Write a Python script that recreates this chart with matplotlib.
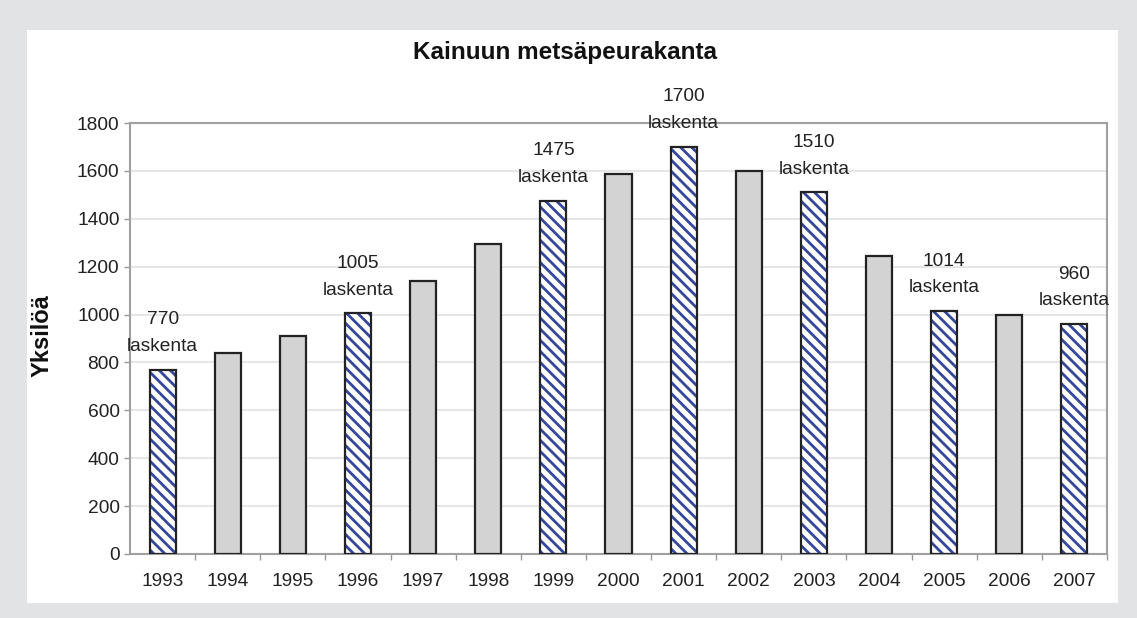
import matplotlib.pyplot as plt
from matplotlib.patches import Rectangle

plt.rcParams['font.family'] = ['Liberation Sans', 'DejaVu Sans']
plt.rcParams['hatch.linewidth'] = 2.0
plt.rcParams['hatch.color'] = '#34479b'

# Data
years = ['1993', '1994', '1995', '1996', '1997', '1998', '1999', '2000',
         '2001', '2002', '2003', '2004', '2005', '2006', '2007']
values = [770, 840, 910, 1005, 1140, 1295, 1475, 1585,
          1700, 1600, 1510, 1245, 1014, 1000, 960]
counted = [True, False, False, True, False, False, True, False,
           True, False, True, False, True, False, True]

fig = plt.figure(figsize=(11.37, 6.18), dpi=100)
fig.patch.set_facecolor('#e2e3e5')
# white panel
fig.patches.append(Rectangle((27 / 1137, 1 - 603 / 618), (1118 - 27) / 1137, (603 - 30) / 618,
                             transform=fig.transFigure, facecolor='white',
                             edgecolor='none', zorder=0))

ax = fig.add_axes([130 / 1137, 1 - 554 / 618, (1107 - 130) / 1137, (554 - 123) / 618])
ax.set_zorder(2)
ax.set_facecolor('white')

x = list(range(len(years)))
for i, (v, c) in enumerate(zip(values, counted)):
    if c:
        ax.bar(i, v, width=0.4, color='white', hatch='\\\\\\', edgecolor='#34479b',
               linewidth=0, zorder=2)
        ax.bar(i, v, width=0.4, fill=False, edgecolor='#222222', linewidth=1.6, zorder=3)
        ax.text(i, v + 62, f"{v}\nlaskenta", ha='center', va='bottom', fontsize=13.8,
                color='#222222', linespacing=1.75, zorder=4)
    else:
        ax.bar(i, v, width=0.4, color='#d3d3d3', edgecolor='#222222', linewidth=1.6, zorder=3)

ax.set_xlim(-0.5, len(years) - 0.5)
ax.set_ylim(0, 1800)
ax.set_yticks(range(0, 1801, 200))
ax.tick_params(axis='y', labelsize=13.8, colors='#999999', labelcolor='#222222',
               length=4, direction='out', width=1)
ax.set_xticks(x)
ax.set_xticklabels(years)
ax.tick_params(axis='x', which='major', length=0, labelsize=13.8, labelcolor='#222222', pad=14)
ax.set_xticks([i + 0.5 for i in range(len(years))], minor=True)
ax.tick_params(axis='x', which='minor', length=4, colors='#999999', direction='out', width=1)

ax.grid(axis='y', color='#e6e6e6', linewidth=1.5, zorder=0)
ax.set_axisbelow(True)
for s in ax.spines.values():
    s.set_color('#a0a0a0')
    s.set_linewidth(1.5)

fig.text(42 / 1137, 1 - 336 / 618, 'Yksilöä', rotation=90, ha='center', va='center',
         fontsize=17, fontweight='bold', color='#111111')
fig.text(565 / 1137, 1 - 53 / 618, 'Kainuun metsäpeurakanta', ha='center', va='center',
         fontsize=17.5, fontweight='bold', color='#111111')

fig.savefig('out.png', dpi=100, facecolor=fig.get_facecolor())
